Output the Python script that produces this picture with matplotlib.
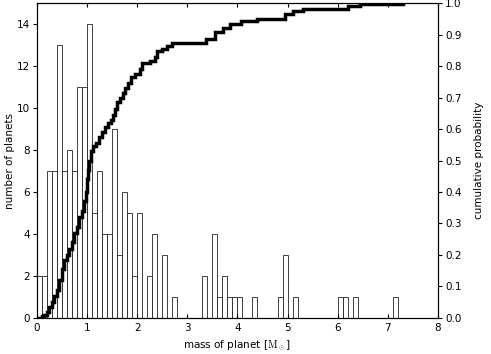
import numpy as np
import matplotlib
matplotlib.use('Agg')
import matplotlib.pyplot as plt

plt.rcParams['font.family'] = 'DejaVu Sans'
plt.rcParams['font.size'] = 7.5
plt.rcParams['mathtext.fontset'] = 'cm'

# histogram: left bin edges (M_sun) and number of planets per 0.1 bin
bin_width = 0.1
bin_left = np.round(np.arange(0, 8, bin_width), 1)
counts = np.zeros(80, dtype=int)
filled = {0.0: 2, 0.1: 2, 0.2: 7, 0.3: 7, 0.4: 13, 0.5: 7, 0.6: 8, 0.7: 7,
          0.8: 11, 0.9: 11, 1.0: 14, 1.1: 5, 1.2: 7, 1.3: 4, 1.4: 4,
          1.5: 9, 1.6: 3, 1.7: 6, 1.8: 5, 1.9: 2, 2.0: 5, 2.2: 2, 2.3: 4,
          2.5: 3, 2.7: 1, 3.3: 2, 3.5: 4, 3.6: 1, 3.7: 2, 3.8: 1, 3.9: 1,
          4.0: 1, 4.3: 1, 4.8: 1, 4.9: 3, 5.1: 1, 6.0: 1, 6.1: 1, 6.3: 1,
          7.1: 1}
for k, v in filled.items():
    counts[int(round(k / bin_width))] = v

# cumulative probability curve (step positions)
cdf_mass = [0.0, 0.1, 0.15, 0.2, 0.25, 0.3, 0.35, 0.4, 0.45, 0.5, 0.55, 0.6,
            0.65, 0.7, 0.75, 0.8, 0.85, 0.9, 0.95, 0.98, 1.0, 1.02, 1.05,
            1.08, 1.12, 1.18, 1.24, 1.3, 1.36, 1.42, 1.48, 1.52, 1.56, 1.6,
            1.66, 1.72, 1.76, 1.82, 1.88, 1.95, 2.05, 2.1, 2.26, 2.36, 2.4,
            2.5, 2.6, 2.7, 3.38, 3.55, 3.72, 3.85, 4.08, 4.4, 4.95, 5.1,
            5.3, 6.2, 6.45, 7.3]
cdf_prob = [0.0, 0.005, 0.01, 0.02, 0.035, 0.05, 0.07, 0.09, 0.12, 0.155,
            0.185, 0.2, 0.22, 0.24, 0.27, 0.29, 0.32, 0.34, 0.37, 0.40,
            0.44, 0.47, 0.50, 0.53, 0.545, 0.555, 0.575, 0.59, 0.605, 0.62,
            0.63, 0.645, 0.665, 0.685, 0.70, 0.715, 0.73, 0.745, 0.765,
            0.775, 0.79, 0.81, 0.815, 0.83, 0.848, 0.855, 0.865, 0.873,
            0.885, 0.907, 0.92, 0.933, 0.944, 0.95, 0.965, 0.975, 0.98,
            0.99, 0.999, 0.999]

fig = plt.figure(figsize=(4.91, 3.54), dpi=100)
ax = fig.add_axes([0.075, 0.102, 0.817, 0.889])
ax.bar(bin_left, counts, width=bin_width, align='edge', color='white',
       edgecolor='#222222', linewidth=0.6)
ax.set_xlim(0, 8)
ax.set_ylim(0, 15)
ax.set_yticks(range(0, 15, 2))
ax.set_xlabel(r'mass of planet [$\mathrm{M}_\odot$]', labelpad=4)
ax.set_ylabel('number of planets', labelpad=1)
ax.tick_params(axis='x', direction='in', top=True, length=3)
ax.tick_params(axis='y', direction='out', length=3, pad=2)

ax2 = ax.twinx()
ax2.plot(cdf_mass, cdf_prob, color='black', lw=2.5, drawstyle='steps-post',
         solid_joinstyle='miter')
ax2.set_ylim(0, 1.0)
ax2.set_yticks(np.round(np.arange(0, 1.01, 0.1), 1))
ax2.set_ylabel('cumulative probability', labelpad=9)
ax2.tick_params(axis='y', direction='out', length=3, pad=2)
ax2.set_xlim(0, 8)

fig.savefig('out.png', dpi=100)
